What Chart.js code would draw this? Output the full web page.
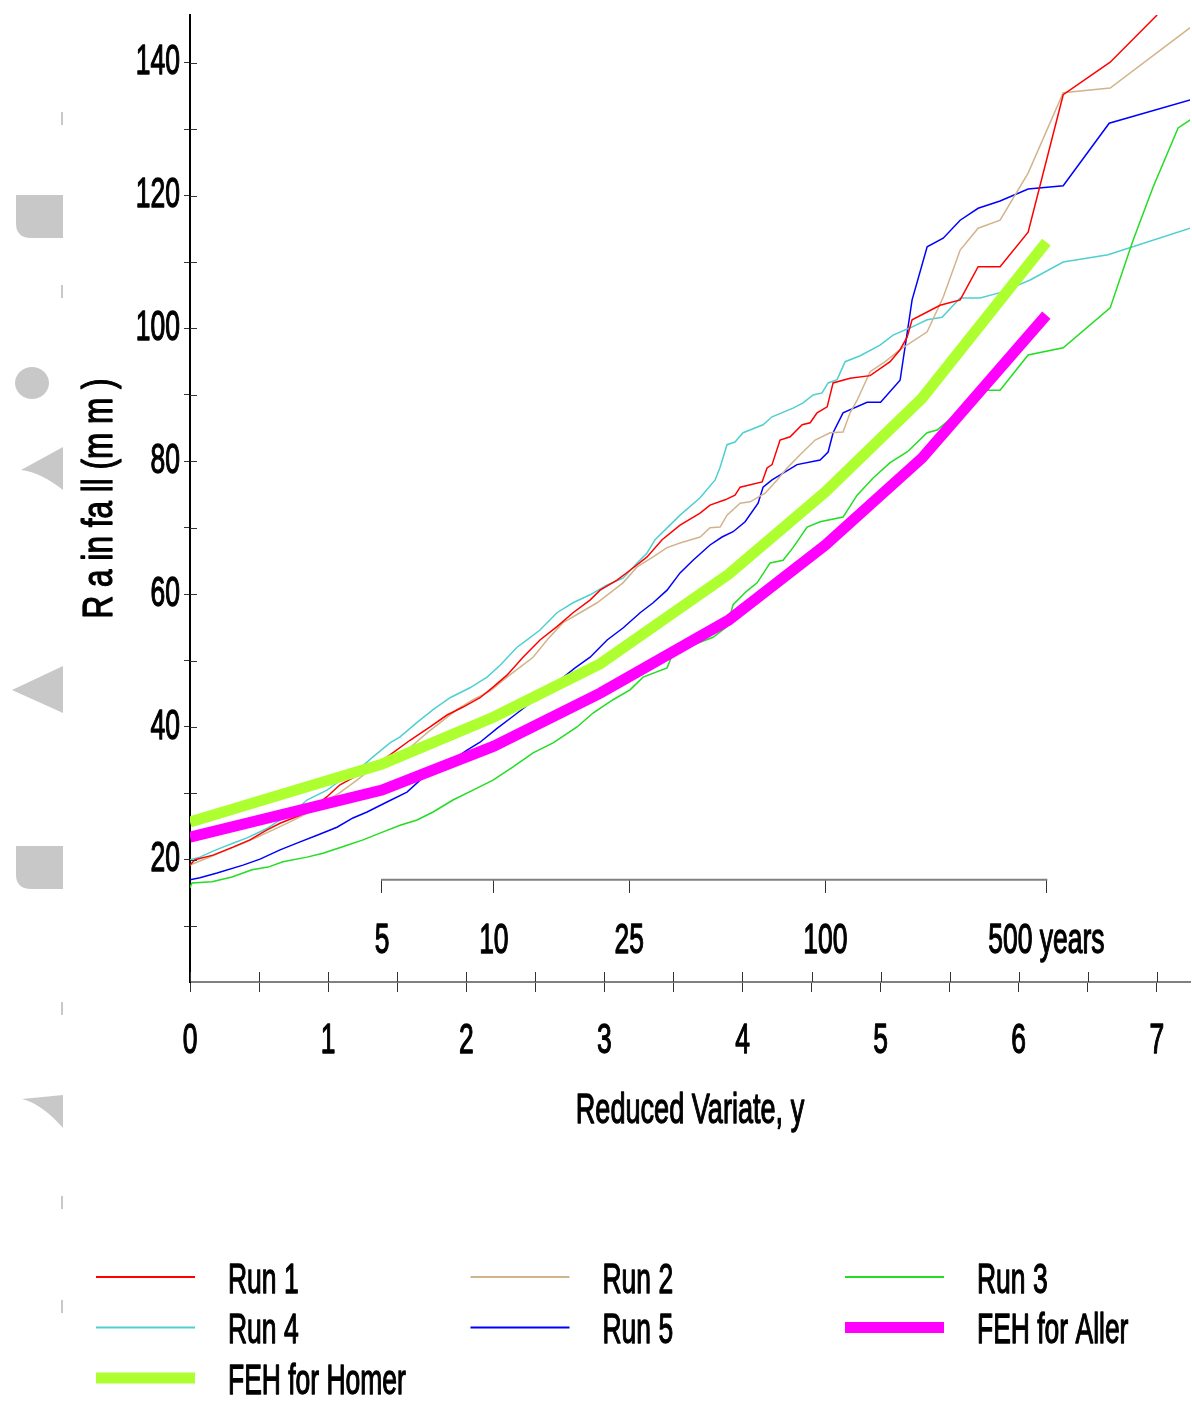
<!DOCTYPE html>
<html>
<head>
<meta charset="utf-8">
<title>Rainfall growth curves</title>
<script src="https://cdn.jsdelivr.net/npm/chart.js@4.4.1/dist/chart.umd.min.js"></script>
<style>
  html, body { margin: 0; padding: 0; background: #ffffff; overflow: hidden; }
  canvas { display: block; }
</style>
</head>
<body>
<canvas id="chart" width="1192" height="1405"></canvas>
<script>
// Each series: [reduced variate y, rainfall depth in mm]
const RUN_1 = [
  [0, 19.2], [0.036, 20.0], [0.167, 20.7], [0.311, 21.9], [0.434, 23.0], [0.558, 24.5],
  [0.652, 25.5], [0.797, 26.7], [0.920, 28.3], [0.992, 29.5], [1.086, 31.3], [1.282, 33.5],
  [1.448, 35.8], [1.593, 38.0], [1.738, 40.0], [1.861, 41.8], [1.977, 43.0], [2.100, 44.4],
  [2.194, 46.0], [2.295, 47.8], [2.411, 50.5], [2.534, 53.1], [2.657, 55.1], [2.773, 57.2],
  [2.896, 59.1], [2.969, 60.6], [3.092, 62.1], [3.186, 63.6], [3.309, 65.6], [3.418, 68.2],
  [3.548, 70.4], [3.693, 72.2], [3.765, 73.4], [3.874, 74.2], [3.946, 74.9], [3.983, 76.1],
  [4.142, 76.9], [4.178, 79.0], [4.214, 79.5], [4.272, 83.2], [4.345, 83.7], [4.432, 85.5],
  [4.490, 85.8], [4.540, 87.3], [4.613, 88.2], [4.656, 91.8], [4.779, 92.5], [4.924, 92.9],
  [5.069, 95.0], [5.141, 96.8], [5.192, 98.7], [5.228, 101.3], [5.431, 103.5], [5.576, 104.3],
  [5.706, 109.3], [5.865, 109.3], [6.068, 114.5], [6.322, 135.2], [6.662, 140.1], [7.002, 147.2]
];
const RUN_2 = [
  [0, 19.2], [0.130, 20.3], [0.268, 21.5], [0.384, 22.5], [0.485, 23.4], [0.601, 24.5],
  [0.724, 25.7], [0.847, 27.0], [0.963, 28.6], [1.086, 30.1], [1.209, 32.0], [1.282, 33.2],
  [1.426, 35.0], [1.571, 36.5], [1.716, 39.1], [1.832, 41.0], [1.933, 42.6], [2.049, 44.1],
  [2.172, 45.4], [2.295, 47.5], [2.390, 49.0], [2.484, 50.5], [2.585, 53.1], [2.701, 55.7],
  [2.824, 57.2], [2.947, 58.7], [3.041, 60.2], [3.135, 61.7], [3.237, 64.1], [3.353, 65.6],
  [3.454, 67.0], [3.548, 67.7], [3.693, 68.6], [3.765, 70.0], [3.838, 70.1], [3.888, 71.9],
  [3.983, 73.7], [4.055, 73.9], [4.164, 75.2], [4.251, 77.2], [4.323, 79.0], [4.417, 81.0],
  [4.526, 83.2], [4.634, 84.3], [4.728, 84.4], [4.779, 87.3], [4.830, 89.2], [4.924, 93.5],
  [5.033, 95.0], [5.141, 96.8], [5.337, 99.5], [5.453, 104.7], [5.576, 111.8], [5.706, 115.1],
  [5.865, 116.3], [6.068, 123.4], [6.322, 135.5], [6.662, 136.2], [7.241, 145.3]
];
const RUN_3 = [
  [0, 15.8], [0.014, 16.5], [0.159, 16.7], [0.304, 17.4], [0.449, 18.5], [0.565, 18.9],
  [0.673, 19.7], [0.847, 20.4], [0.963, 21.0], [1.137, 22.2], [1.253, 23.0], [1.398, 24.2],
  [1.521, 25.2], [1.644, 26.0], [1.760, 27.2], [1.904, 29.0], [2.049, 30.5], [2.194, 32.0],
  [2.339, 34.0], [2.484, 36.1], [2.629, 37.6], [2.802, 40.0], [2.918, 42.1], [3.063, 44.1],
  [3.186, 45.6], [3.280, 47.5], [3.454, 48.9], [3.497, 51.1], [3.599, 52.0], [3.787, 53.5],
  [3.888, 55.1], [3.932, 58.4], [4.033, 60.5], [4.106, 61.7], [4.200, 64.7], [4.294, 65.1],
  [4.366, 67.0], [4.468, 70.1], [4.562, 70.9], [4.728, 71.6], [4.830, 74.9], [4.946, 77.5],
  [5.069, 79.8], [5.192, 81.4], [5.337, 84.3], [5.409, 84.7], [5.539, 87.0], [5.742, 90.7],
  [5.865, 90.7], [6.068, 96.0], [6.322, 97.1], [6.662, 103.1], [6.828, 113.3], [6.973, 121.3],
  [7.154, 130.2], [7.241, 131.4]
];
const RUN_4 = [
  [0, 20.0], [0.072, 20.4], [0.167, 21.3], [0.239, 21.9], [0.311, 22.5], [0.413, 23.3],
  [0.485, 24.0], [0.565, 24.8], [0.630, 25.7], [0.724, 26.7], [0.847, 29.0], [0.992, 30.5],
  [1.064, 31.6], [1.231, 33.8], [1.325, 35.5], [1.448, 37.6], [1.521, 38.5], [1.644, 40.7],
  [1.760, 42.6], [1.883, 44.4], [2.027, 45.9], [2.151, 47.5], [2.245, 49.3], [2.368, 52.0],
  [2.440, 53.1], [2.534, 54.6], [2.657, 57.2], [2.773, 58.7], [2.896, 59.9], [3.020, 61.4],
  [3.135, 62.4], [3.237, 64.7], [3.309, 66.2], [3.367, 68.2], [3.548, 71.9], [3.693, 74.5],
  [3.802, 77.2], [3.838, 79.1], [3.888, 82.5], [3.946, 82.9], [4.004, 84.3], [4.149, 85.5],
  [4.214, 86.7], [4.366, 88.0], [4.439, 88.8], [4.511, 90.0], [4.576, 90.3], [4.620, 91.8],
  [4.685, 92.3], [4.743, 95.0], [4.852, 95.9], [4.996, 97.5], [5.090, 99.0], [5.214, 100.1],
  [5.337, 101.3], [5.445, 101.7], [5.576, 104.6], [5.720, 104.6], [5.865, 105.4], [6.083, 107.3],
  [6.322, 110.0], [6.647, 111.1], [7.241, 115.1]
];
const RUN_5 = [
  [0, 17.0], [0.072, 17.3], [0.196, 18.0], [0.384, 19.2], [0.507, 20.1], [0.652, 21.5],
  [0.797, 22.7], [0.920, 23.7], [1.064, 24.9], [1.180, 26.3], [1.282, 27.2], [1.426, 28.7],
  [1.571, 30.2], [1.666, 32.0], [1.847, 34.3], [2.006, 36.5], [2.100, 37.7], [2.223, 39.8],
  [2.332, 41.5], [2.571, 45.3], [2.788, 48.9], [2.897, 50.5], [3.020, 53.1], [3.135, 54.9],
  [3.259, 57.2], [3.353, 58.7], [3.454, 60.6], [3.548, 63.2], [3.642, 65.1], [3.765, 67.4],
  [3.852, 68.6], [3.932, 69.4], [4.019, 70.9], [4.113, 73.7], [4.149, 76.1], [4.214, 77.2],
  [4.395, 79.5], [4.562, 80.2], [4.620, 81.4], [4.656, 84.3], [4.728, 87.3], [4.902, 88.9],
  [5.000, 88.9], [5.141, 92.2], [5.228, 104.3], [5.337, 112.3], [5.453, 113.6], [5.576, 116.3],
  [5.706, 118.1], [5.865, 119.2], [6.068, 121.0], [6.322, 121.5], [6.655, 130.9], [7.241, 134.4]
];
// FEH growth curves
const FEH_ALLER = [
  [0, 23.4], [1.39, 30.5], [2.2, 37.1], [2.97, 45.1], [3.9, 56.1], [4.6, 67.4], [5.3, 80.5], [6.2, 102.0]
];
const FEH_HOMER = [
  [0, 25.7], [1.39, 34.4], [2.2, 41.5], [2.97, 49.5], [3.9, 63.0], [4.6, 75.4], [5.3, 89.5], [6.2, 113.0]
];

const SERIES_LABELS = ['Run 1', 'Run 2', 'Run 3', 'Run 4', 'Run 5', 'FEH for Aller', 'FEH for Homer'];
const SERIES_COLORS = ['#ff0000', '#d2b48c', '#22dd22', '#4fd0d0', '#0000ff', '#ff00ff', '#adff2f'];

const X_TICKS = [0, 0.5, 1, 1.5, 2, 2.5, 3, 3.5, 4, 4.5, 5, 5.5, 6, 6.5, 7];
const Y_TICKS = [10, 20, 30, 40, 50, 60, 70, 80, 90, 100, 110, 120, 130, 140];
const RETURN_PERIOD_VARIATE = [1.39, 2.2, 3.18, 4.6, 6.2];
const RETURN_PERIOD_LABELS = ['5', '10', '25', '100', '500 years'];

const FONT_FAMILY = '"Liberation Sans", Arial, "Noto Sans", sans-serif';
const TEXT_SQUEEZE = 0.63;   // narrow lettering for horizontal text
const TITLE_SQUEEZE = 0.75;  // narrow lettering for rotated text
const TEXT_WEIGHT = 1.3;     // extra outline to darken the narrow strokes

const canvas = document.getElementById('chart');
const ctx = canvas.getContext('2d');

// Condensed lettering: every label is drawn horizontally compressed about its anchor.
const nativeFillText = ctx.fillText;
const nativeStrokeText = ctx.strokeText;
ctx.fillText = function (text, x, y, maxWidth) {
  const m = this.getTransform();
  const sx = Math.abs(m.b) > 1e-6 ? TITLE_SQUEEZE : TEXT_SQUEEZE;
  this.save();
  this.translate(x, y);
  this.scale(sx, 1);
  this.strokeStyle = this.fillStyle;
  this.lineWidth = TEXT_WEIGHT;
  this.lineJoin = 'round';
  if (maxWidth === undefined || maxWidth === null) {
    nativeFillText.call(this, text, 0, 0);
    nativeStrokeText.call(this, text, 0, 0);
  } else {
    nativeFillText.call(this, text, 0, 0, maxWidth / sx);
    nativeStrokeText.call(this, text, 0, 0, maxWidth / sx);
  }
  this.restore();
};

// Pale grey shapes along the left margin, plus white page background
const backdrop = {
  id: 'backdrop',
  beforeDraw(chart) {
    const c = chart.ctx;
    c.save();
    c.fillStyle = '#ffffff';
    c.fillRect(0, 0, chart.width, chart.height);
    c.fillStyle = '#c8c8c8';
    const block = (y0) => {
      c.beginPath();
      c.moveTo(63, y0);
      c.lineTo(16, y0);
      c.lineTo(16, y0 + 28);
      c.quadraticCurveTo(16, y0 + 43, 31, y0 + 43);
      c.lineTo(63, y0 + 43);
      c.closePath();
      c.fill();
    };
    block(195);
    block(846);
    c.beginPath();
    c.ellipse(32, 383, 17, 16, 0, 0, Math.PI * 2);
    c.fill();
    c.beginPath();
    c.moveTo(21, 470); c.lineTo(63, 447); c.lineTo(63, 490);
    c.quadraticCurveTo(40, 472, 21, 470);
    c.fill();
    c.beginPath();
    c.moveTo(12, 690); c.lineTo(63, 666); c.lineTo(63, 713);
    c.closePath();
    c.fill();
    c.beginPath();
    c.moveTo(22, 1099); c.lineTo(63, 1095); c.lineTo(63, 1128);
    c.quadraticCurveTo(42, 1104, 22, 1099);
    c.fill();
    [112, 285, 1002, 1196, 1300].forEach((y) => c.fillRect(61, y, 2, 13));
    c.restore();
  }
};

// Tick marks that cross the axes, and the return-period axis line
const axisDetails = {
  id: 'axisDetails',
  afterDraw(chart) {
    const c = chart.ctx;
    const xs = chart.scales.x, ys = chart.scales.y, rs = chart.scales.x2;
    c.save();
    c.strokeStyle = '#333333';
    c.lineWidth = 1;
    c.beginPath();
    ys.ticks.forEach((t) => {
      const py = Math.round(ys.getPixelForValue(t.value)) + 0.5;
      c.moveTo(ys.right, py); c.lineTo(ys.right + 7, py);
    });
    xs.ticks.forEach((t) => {
      const px = Math.round(xs.getPixelForValue(t.value)) + 0.5;
      c.moveTo(px, xs.top); c.lineTo(px, xs.top - 10);
    });
    c.stroke();
    const ry = ys.getPixelForValue(rs.options.position.y);
    c.strokeStyle = '#808080';
    c.lineWidth = 2;
    c.beginPath();
    c.moveTo(rs.getPixelForValue(RETURN_PERIOD_VARIATE[0]) - 1, ry);
    c.lineTo(rs.getPixelForValue(RETURN_PERIOD_VARIATE[RETURN_PERIOD_VARIATE.length - 1]) + 1, ry);
    c.stroke();
    c.restore();
  }
};

// Three-column legend below the axes
const gridLegend = {
  id: 'gridLegend',
  afterDraw(chart, args, opts) {
    const c = chart.ctx;
    c.save();
    c.font = opts.fontSize + 'px ' + FONT_FAMILY;
    c.textAlign = 'left';
    c.textBaseline = 'middle';
    c.fillStyle = '#000000';
    chart.data.datasets.forEach((ds, i) => {
      const col = i % 3, row = Math.floor(i / 3);
      const x0 = opts.left + col * opts.colWidth;
      const y = opts.top + row * opts.rowHeight;
      c.strokeStyle = ds.borderColor;
      c.lineWidth = Math.max(ds.borderWidth, 2);
      c.beginPath();
      c.moveTo(x0, y);
      c.lineTo(x0 + opts.sampleLength, y);
      c.stroke();
      c.fillText(ds.label, x0 + opts.textOffset, y + 4);
    });
    c.restore();
  }
};

const SERIES = [RUN_1, RUN_2, RUN_3, RUN_4, RUN_5, FEH_ALLER, FEH_HOMER];
const datasets = SERIES.map((pts, i) => {
  const isFeh = i >= 5;
  return {
    label: SERIES_LABELS[i],
    data: pts.map(([x, y]) => ({ x, y })),
    borderColor: SERIES_COLORS[i],
    backgroundColor: SERIES_COLORS[i],
    borderWidth: isFeh ? 11 : 1.5,
    pointRadius: 0,
    pointHoverRadius: 0,
    tension: 0,
    fill: false,
    order: isFeh ? 0 : 1
  };
});

const tickFont = { family: FONT_FAMILY, size: 42 };

new Chart(ctx, {
  type: 'line',
  data: { datasets },
  plugins: [backdrop, axisDetails, gridLegend],
  options: {
    responsive: false,
    animation: false,
    devicePixelRatio: 1,
    events: [],
    layout: { padding: { top: 15, right: 2, bottom: 245, left: 0 } },
    plugins: {
      legend: { display: false },
      tooltip: { enabled: false },
      gridLegend: { left: 96, top: 1277, colWidth: 374.5, rowHeight: 50.5, sampleLength: 99, textOffset: 132, fontSize: 42 }
    },
    scales: {
      x: {
        type: 'linear',
        position: 'bottom',
        min: 0,
        max: 7.24,
        afterBuildTicks: (s) => { s.ticks = X_TICKS.map((v) => ({ value: v })); },
        afterFit: (s) => { s.height = 178; s.paddingLeft = 0; s.paddingRight = 0; },
        ticks: {
          autoSkip: false,
          maxRotation: 0,
          padding: 24,
          color: '#000000',
          font: tickFont,
          callback: (v) => (Number.isInteger(v) ? String(v) : '')
        },
        grid: { drawOnChartArea: false, drawTicks: true, tickLength: 10, color: '#333333', lineWidth: 1 },
        border: { display: true, color: '#808080', width: 2 },
        title: {
          display: true,
          text: 'Reduced Variate, y',
          color: '#000000',
          font: { family: FONT_FAMILY, size: 43 },
          padding: { top: 0, bottom: 23 }
        }
      },
      x2: {
        type: 'linear',
        axis: 'x',
        position: { y: 17 },
        min: 0,
        max: 7.24,
        afterBuildTicks: (s) => { s.ticks = RETURN_PERIOD_VARIATE.map((v) => ({ value: v })); },
        afterFit: (s) => { s.paddingLeft = 0; s.paddingRight = 0; s.paddingTop = 0; s.paddingBottom = 0; },
        ticks: {
          autoSkip: false,
          maxRotation: 0,
          padding: 24,
          color: '#000000',
          font: tickFont,
          callback: (v) => RETURN_PERIOD_LABELS[RETURN_PERIOD_VARIATE.indexOf(v)]
        },
        grid: { drawOnChartArea: false, drawTicks: true, tickLength: 13, color: '#333333', lineWidth: 1 },
        border: { display: false }
      },
      y: {
        type: 'linear',
        position: 'left',
        min: 1.6,
        max: 147.2,
        afterBuildTicks: (s) => { s.ticks = Y_TICKS.map((v) => ({ value: v })); },
        afterFit: (s) => { s.width = 190; s.paddingTop = 0; s.paddingBottom = 0; },
        ticks: {
          autoSkip: false,
          padding: 4,
          color: '#000000',
          font: tickFont,
          callback: (v) => (v % 20 === 0 ? String(v) : '')
        },
        grid: { drawOnChartArea: false, drawTicks: true, tickLength: 6, color: '#333333', lineWidth: 1 },
        border: { display: true, color: '#000000', width: 2 },
        title: {
          display: true,
          text: 'R a in fa ll (m m )',
          color: '#000000',
          font: { family: FONT_FAMILY, size: 42 },
          padding: { top: 75, bottom: 0 }
        }
      }
    }
  }
});
</script>
</body>
</html>
